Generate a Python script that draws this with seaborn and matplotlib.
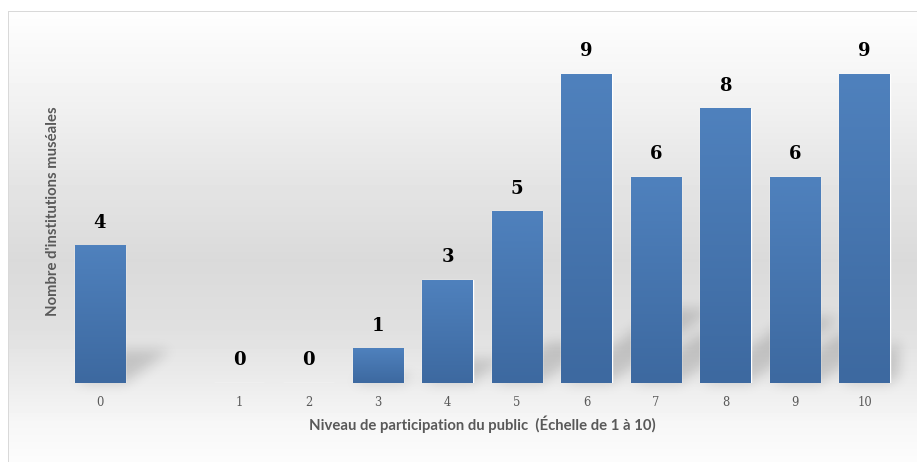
import numpy as np
import pandas as pd
import seaborn as sns
import matplotlib.pyplot as plt
from matplotlib.collections import PolyCollection

# Number of museum institutions per public-participation level
niveaux = ["0", "1", "2", "3", "4", "5", "6", "7", "8", "9", "10"]
institutions = [4, 0, 0, 1, 3, 5, 9, 6, 8, 6, 9]
# Category slots on the x axis (a blank slot separates 0 from the 1-10 scale)
ordre = ["0", " ", "1", "2", "3", "4", "5", "6", "7", "8", "9", "10"]

x_label = "Niveau de participation du public  (Échelle de 1 à 10)"
y_label = "Nombre d'institutions muséales"

sns.set_style("white")

W, H = 917, 462
fig = plt.figure(figsize=(W / 100, H / 100), dpi=100)

# --- soft vertical gradient background with a thin frame ---
ys = np.array([0, 11, 90, 170, 260, 330, 383, 420, 462])
vs = np.array([255, 254, 243, 230, 218, 224, 236, 246, 252])
col = np.interp(np.arange(H), ys, vs)
bg = np.repeat(col[:, None], W, axis=1)
bg[:11, :] = 255
bg[:, :8] = 255
bg[11, 8:] = 217
bg[11:, 8] = 217
bg_ax = fig.add_axes([0, 0, 1, 1], zorder=-5)
bg_ax.imshow(bg, cmap="gray", vmin=0, vmax=255, extent=[0, W, H, 0],
             aspect="auto", interpolation="nearest")
bg_ax.axis("off")

# --- main plot ---
ax = fig.add_axes([65.25 / W, (H - 383) / H, 834 / W, 343 / H])
ax.set_facecolor("none")
df = pd.DataFrame({"niveau": niveaux, "institutions": institutions})
sns.barplot(data=df, x="niveau", y="institutions", order=ordre, width=0.72,
            color="#4a7ab5", errorbar=None, ax=ax, zorder=3)

bars = list(ax.containers[0])


def gaussian_blur(a, sigma):
    r = int(3 * sigma)
    k = np.exp(-0.5 * (np.arange(-r, r + 1) / sigma) ** 2)
    k /= k.sum()
    p = np.pad(a, r)
    h, w = a.shape
    tmp = sum(k[i] * p[i:i + h, :] for i in range(2 * r + 1))
    out = sum(k[i] * tmp[:, i:i + w] for i in range(2 * r + 1))
    return out


def shadow_filter(im, dpi, sigma=4.5, strength=0.4):
    pad = int(3 * sigma) + 2
    src = np.pad(im, [(pad, pad), (pad, pad), (0, 0)])
    out = np.zeros_like(src)
    out[:, :, 3] = np.clip(gaussian_blur(src[:, :, 3], sigma) * strength, 0, 1)
    return out, -pad, -pad


# perspective drop shadows cast up and to the right of each bar
polys = []
for p in bars:
    h = p.get_height()
    if h <= 0:
        continue
    x0 = p.get_x()
    x1 = x0 + p.get_width()
    dx, dy = 0.163 * h, 0.24 * h
    polys.append([(x0, 0), (x1, 0), (x1 + dx, dy), (x0 + dx, dy)])
shadows = PolyCollection(polys, facecolors="black", edgecolors="none", zorder=2)
shadows.set_agg_filter(shadow_filter)
ax.add_collection(shadows)

# vertical colour gradient inside each bar
t = np.linspace(0, 1, 64)[:, None, None]
top = np.array([79, 129, 189]) / 255
bot = np.array([61, 105, 160]) / 255
grad = top + (bot - top) * t
for p in bars:
    h = p.get_height()
    if h <= 0:
        continue
    x0 = p.get_x()
    ax.imshow(grad, extent=[x0, x0 + p.get_width(), 0, h], origin="upper",
              aspect="auto", interpolation="bilinear", zorder=3)
    p.set_facecolor("none")

ax.set_xlim(-0.5, len(ordre) - 0.5)
ax.set_ylim(0, 10)

ax.bar_label(ax.containers[0], fmt="%d", padding=10, fontsize=13,
             fontweight="bold", family="DejaVu Serif", color="black")

ax.set_yticks([])
ax.tick_params(axis="x", length=0, pad=9, labelsize=8.3, labelcolor="#595959")
for lab in ax.get_xticklabels():
    lab.set_family("DejaVu Serif")
for s in ax.spines.values():
    s.set_visible(False)

ax.set_xlabel(x_label, fontsize=10.7, fontweight="bold", color="#595959",
              family="Lato", va="center")
ax.xaxis.set_label_coords(0.5, -0.1195)
ax.set_ylabel(y_label, fontsize=10.7, fontweight="bold", color="#595959",
              family="Lato", va="center", ha="center")
ax.yaxis.set_label_coords(-0.0147, 0.5)

fig.savefig("out.png", dpi=100)
